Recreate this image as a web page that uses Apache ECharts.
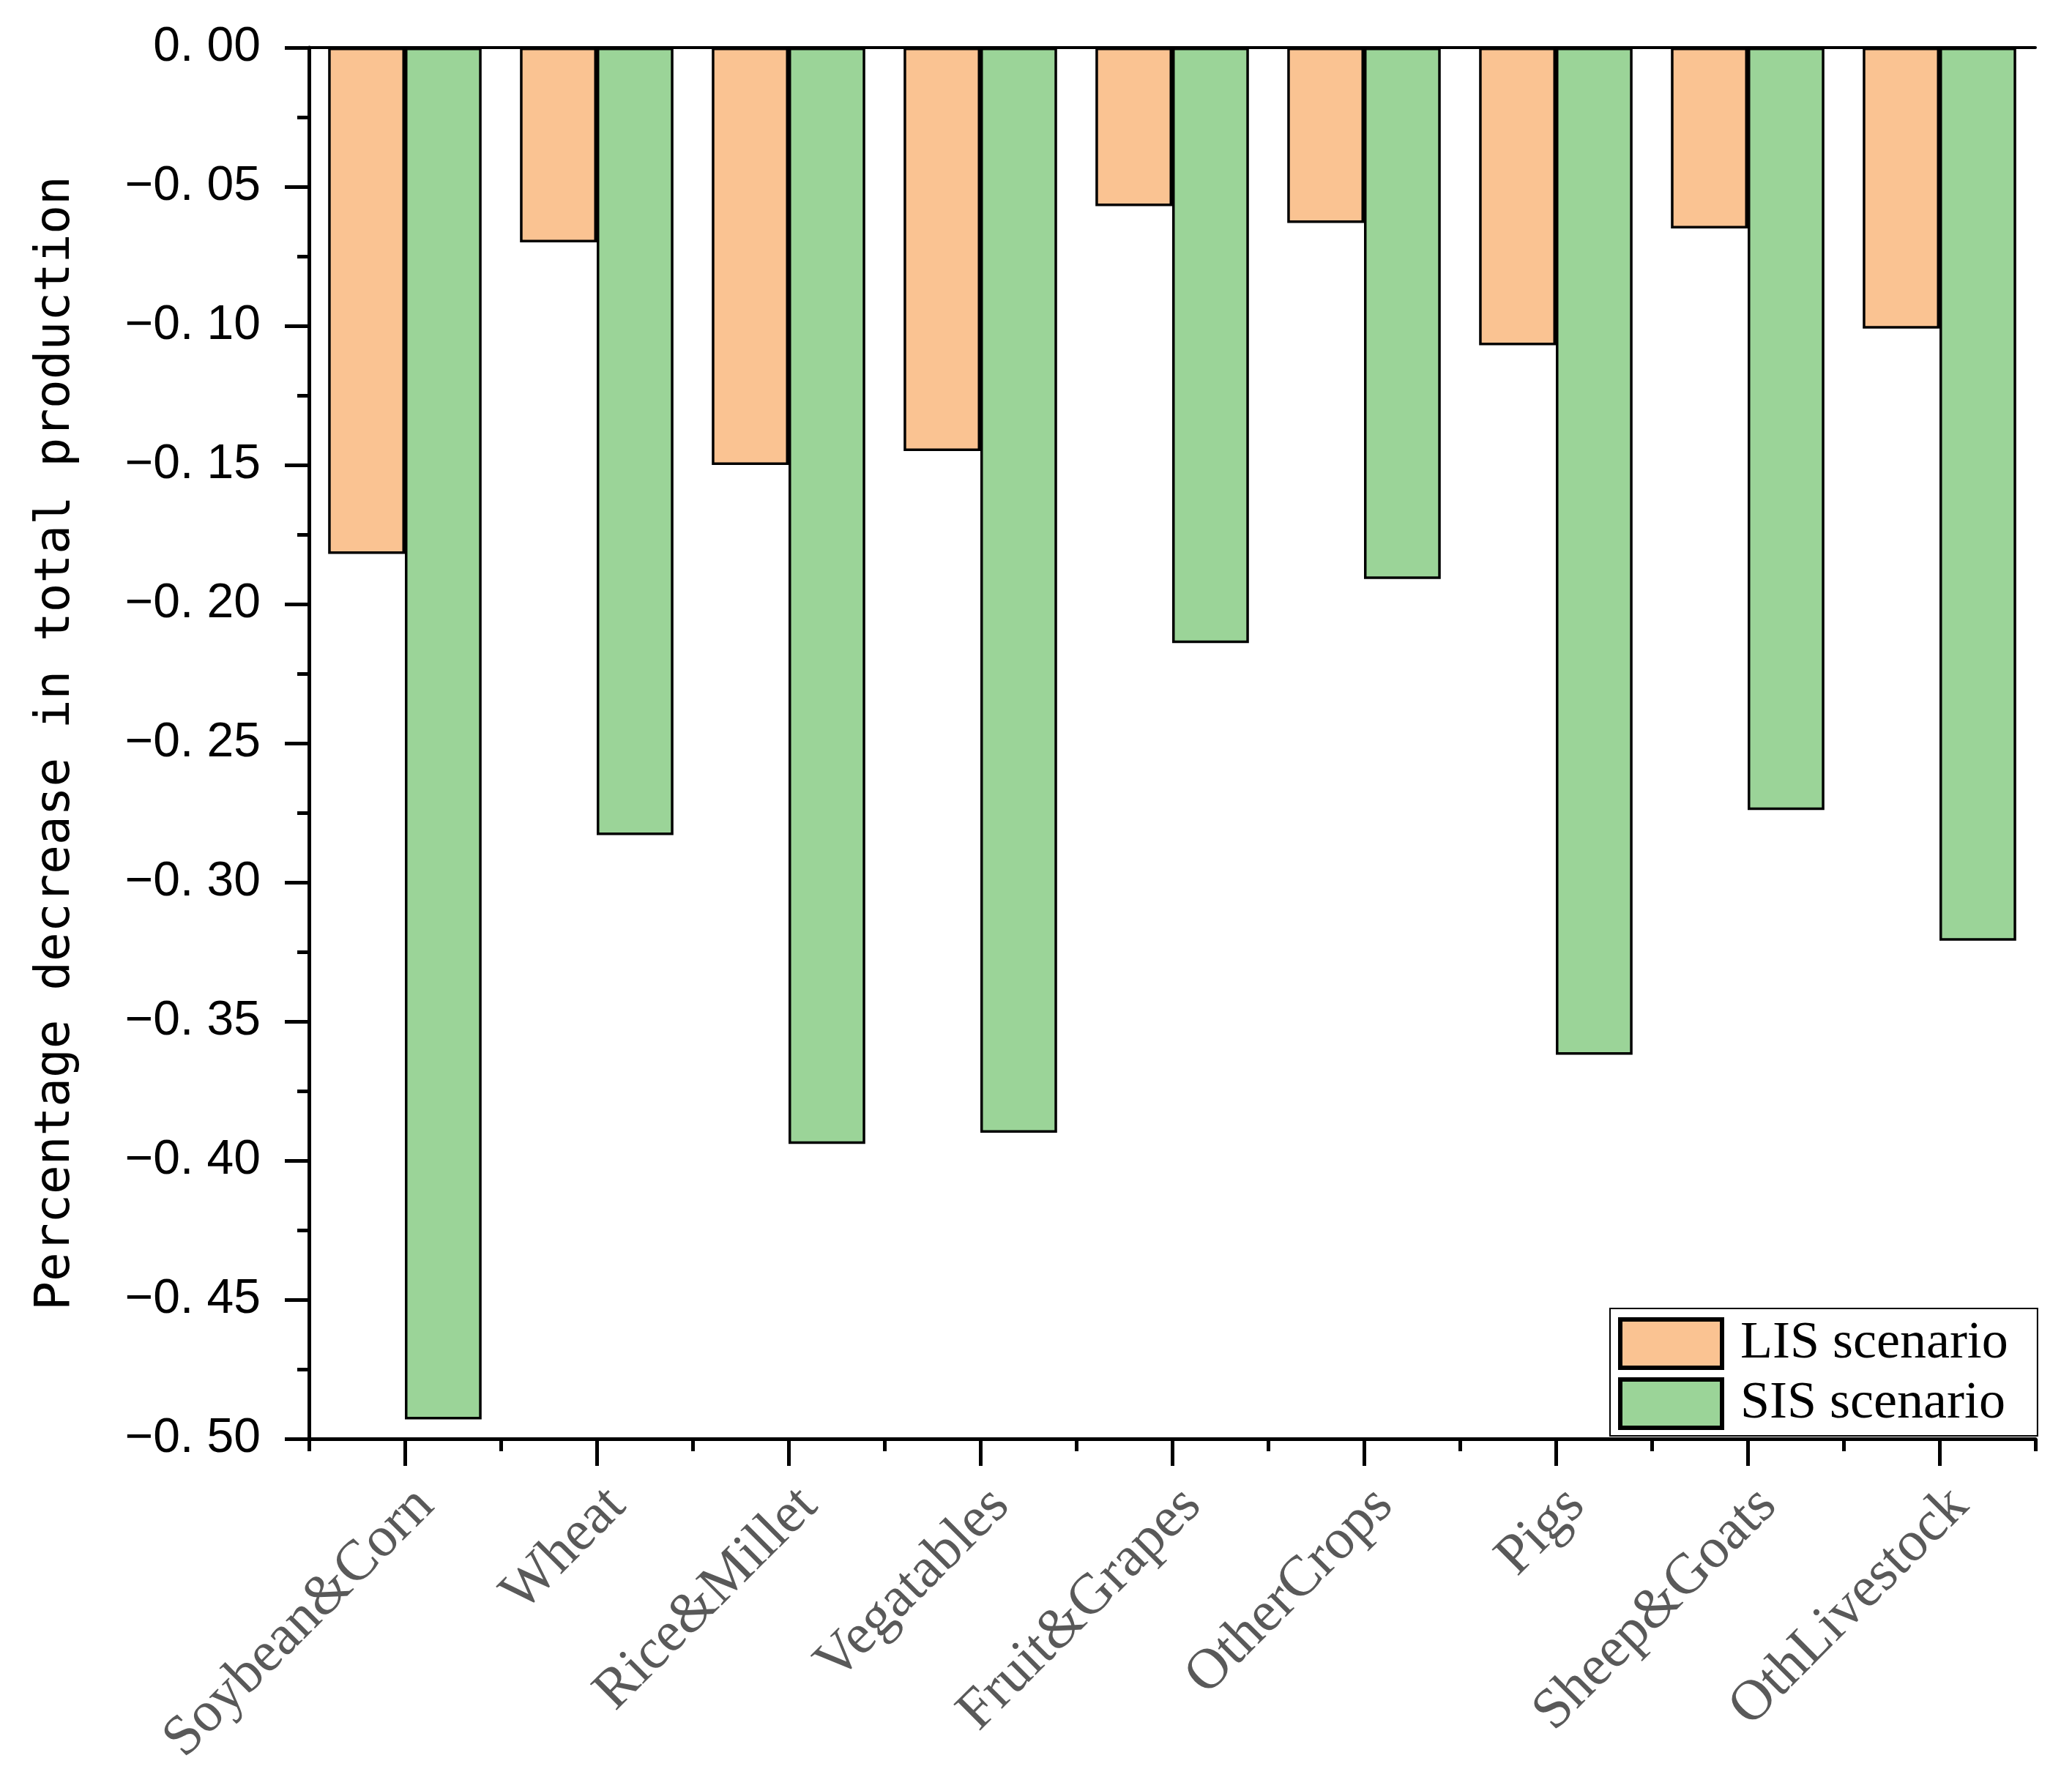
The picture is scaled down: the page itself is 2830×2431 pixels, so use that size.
<!DOCTYPE html>
<html>
<head>
<meta charset="utf-8">
<script src="https://cdn.jsdelivr.net/npm/echarts@6/dist/echarts.min.js"></script>
<style>
  html, body { margin: 0; padding: 0; background: #fff; }
  #chart { width: 2830px; height: 2431px; }
</style>
</head>
<body>
<div id="chart"></div>
<script>
var categories = ['Soybean&Corn', 'Wheat', 'Rice&Millet', 'Vegatables', 'Fruit&Grapes',
                  'OtherCrops', 'Pigs', 'Sheep&Goats', 'OthLivestock'];
var lisData = [-0.182, -0.070, -0.150, -0.145, -0.057, -0.063, -0.107, -0.065, -0.101];
var sisData = [-0.493, -0.283, -0.394, -0.390, -0.214, -0.191, -0.362, -0.274, -0.321];
var seriesNames = ['LIS scenario', 'SIS scenario'];

var chart = echarts.init(document.getElementById('chart'));

function yLabel(v) {
    var s = Math.abs(v).toFixed(2).replace('.', '. ');
    return (v < -1e-9 ? '\u2212' : '') + s;
}

var plotBox = { left: 422, right: 50, top: 65, bottom: 466 };

var option = {
    backgroundColor: '#fff',
    animation: false,
    grid: [
        { left: plotBox.left, right: plotBox.right, top: plotBox.top, bottom: plotBox.bottom },
        // second grid over the same box, only for the short boundary ticks
        { left: plotBox.left, right: plotBox.right, top: plotBox.top, bottom: plotBox.bottom }
    ],
    legend: {
        data: seriesNames,
        orient: 'vertical',
        left: 2199,
        top: 1787,
        padding: [12, 40, 8, 11],
        itemWidth: 139,
        itemHeight: 66,
        itemGap: 10,
        icon: 'rect',
        borderColor: '#000',
        borderWidth: 2,
        backgroundColor: '#fff',
        textStyle: {
            fontFamily: 'Liberation Serif',
            fontSize: 72,
            color: '#000',
            padding: [0, 0, 0, 20]
        },
        itemStyle: {
            borderColor: '#000',
            borderWidth: 6
        }
    },
    xAxis: [
        {
            type: 'category',
            gridIndex: 0,
            data: categories,
            position: 'bottom',
            axisLine: { onZero: false, lineStyle: { color: '#000', width: 5 } },
            axisTick: { show: true, alignWithLabel: true, length: 37, lineStyle: { color: '#000', width: 5 } },
            axisLabel: {
                rotate: 45,
                interval: 0,
                margin: 52,
                verticalAlign: 'top',
                fontFamily: 'Liberation Serif',
                fontSize: 78,
                color: '#595959'
            }
        },
        {
            type: 'category',
            gridIndex: 0,
            data: categories,
            position: 'top',
            axisLine: { onZero: false, lineStyle: { color: '#000', width: 4 } },
            axisTick: { show: false },
            axisLabel: { show: false }
        },
        {
            type: 'category',
            gridIndex: 1,
            data: categories,
            position: 'bottom',
            axisLine: { show: false, onZero: false },
            axisTick: { show: true, length: 17, lineStyle: { color: '#000', width: 5 } },
            axisLabel: { show: false }
        }
    ],
    yAxis: [
        {
            type: 'value',
            gridIndex: 0,
            min: -0.5,
            max: 0,
            interval: 0.05,
            name: 'Percentage decrease in total production',
            nameLocation: 'middle',
            nameGap: 312,
            nameTextStyle: {
                fontFamily: 'DejaVu Sans Mono',
                fontSize: 66,
                color: '#000'
            },
            axisLine: { show: true, lineStyle: { color: '#000', width: 5 } },
            axisTick: { show: true, length: 33, lineStyle: { color: '#000', width: 5 } },
            minorTick: { show: true, splitNumber: 2, length: 16, lineStyle: { color: '#000', width: 5 } },
            splitLine: { show: false },
            axisLabel: {
                margin: 66,
                fontFamily: 'Liberation Sans',
                fontSize: 66,
                color: '#000',
                formatter: yLabel
            }
        },
        {
            type: 'value',
            gridIndex: 1,
            min: -0.5,
            max: 0,
            show: false
        }
    ],
    series: [
        {
            name: seriesNames[0],
            type: 'bar',
            xAxisIndex: 0,
            yAxisIndex: 0,
            data: lisData,
            barGap: '0%',
            barCategoryGap: '20%',
            itemStyle: { color: '#FAC392', borderColor: '#000', borderWidth: 3.5 }
        },
        {
            name: seriesNames[1],
            type: 'bar',
            xAxisIndex: 0,
            yAxisIndex: 0,
            data: sisData,
            barGap: '0%',
            barCategoryGap: '20%',
            itemStyle: { color: '#9BD498', borderColor: '#000', borderWidth: 3.5 }
        }
    ]
};
chart.setOption(option);
</script>
</body>
</html>
